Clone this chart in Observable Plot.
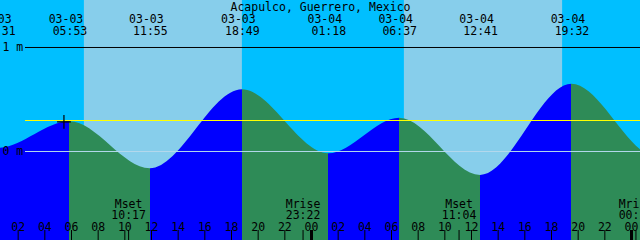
<!DOCTYPE html>
<html>
<head>
<meta charset="utf-8">
<script src="https://cdn.jsdelivr.net/npm/d3@7"></script>
<script src="https://cdn.jsdelivr.net/npm/@observablehq/plot@0.6"></script>
<style>
  html, body { margin: 0; padding: 0; background: #fff; }
  svg { display: block; }
</style>
</head>
<body>
<div id="chart"></div>
<script>
// ---- data ----
const title = "Acapulco, Guerrero, Mexico";
const tideTimes  = ["03-02 18:05", "03-03 00:31", "03-03 05:53", "03-03 11:55", "03-03 18:49", "03-04 01:18", "03-04 06:37", "03-04 12:41", "03-04 19:32", "03-05 02:00", "03-05 07:20"];
const tideLevels = [0.55, 0.03, 0.285, -0.167, 0.593, -0.022, 0.32, -0.23, 0.647, -0.06, 0.34];
const labeledTides = [1, 2, 3, 4, 5, 6, 7, 8];
const sunrises = ["03-03 06:58", "03-04 06:58"];
const sunsets  = ["03-03 18:49", "03-04 18:50"];
const moonNames = ["Mset", "Mrise", "Mset", "Mrise"];
const moonTimes = ["03-03 10:17", "03-03 23:22", "03-04 11:04", "03-05 00:20"];
const meanLevel = 0.298;
const levelLines = [1, 0];
const levelLabels = ["1 m", "0 m"];
const markTime = "03-03 05:26";
const markLevel = 0.284;
const tickTimes = ["03-03 02:00","03-03 04:00","03-03 06:00","03-03 08:00","03-03 10:00","03-03 12:00","03-03 14:00","03-03 16:00","03-03 18:00","03-03 20:00","03-03 22:00","03-04 00:00",
                   "03-04 02:00","03-04 04:00","03-04 06:00","03-04 08:00","03-04 10:00","03-04 12:00","03-04 14:00","03-04 16:00","03-04 18:00","03-04 20:00","03-04 22:00","03-05 00:00"];
const xDomain = [-23.325, 24.675];   // hours relative to 03-04 00:00
const yDomain = [-0.8558, 1.4519];   // metres

// ---- helpers ----
function hrs(s) {
  const [md, hm] = s.split(" ");
  const day = +md.split("-")[1];
  const [h, m] = hm.split(":").map(Number);
  return (day - 4) * 24 + h + m / 60;
}
const tides = tideTimes.map((t, i) => ({t: hrs(t), h: tideLevels[i], date: t.split(" ")[0], time: t.split(" ")[1]}));
const tideLabels = labeledTides.map(i => tides[i]);
const dayBands = sunrises.map((s, i) => ({start: hrs(s), end: hrs(sunsets[i])}));
const moon = moonTimes.map((t, i) => ({t: hrs(t), name: moonNames[i], time: t.split(" ")[1]}));
const ticks = tickTimes.map(t => ({t: hrs(t), label: t.split(" ")[1].slice(0, 2), midnight: t.endsWith("00:00")}));
const levels = levelLines.map((v, i) => ({v, label: levelLabels[i]}));

const font = "DejaVu Sans Mono";
const fs = 11.5;
const txt = (data, opts) => Plot.text(data, {fontFamily: font, fontSize: fs, fill: "black", lineAnchor: "bottom", ...opts});

const plot = Plot.plot({
  width: 640,
  height: 240,
  margin: 0,
  style: {background: "#00BFFF", overflow: "hidden"},
  x: {domain: xDomain, axis: null},
  y: {domain: yDomain, axis: null},
  marks: [
    Plot.rect(dayBands, {x1: "start", x2: "end", fill: "#87CEEB"}),
    Plot.areaY(tides, {x: "t", y1: yDomain[0], y2: "h", curve: "monotone-x", fill: "url(#tideFill)"}),
    Plot.ruleY(levels.slice(0, 1), {y: "v", stroke: "black", insetLeft: 25}),
    Plot.ruleY(levels.slice(1), {y: "v", stroke: "#b4d8ec", insetLeft: 25}),
    Plot.ruleY([meanLevel], {stroke: "#ffff00", insetLeft: 25}),
    Plot.dot([{t: hrs(markTime), h: markLevel}], {x: "t", y: "h", symbol: "plus", r: 4.5, stroke: "black", strokeWidth: 1.2}),
    txt([title], {frameAnchor: "top", dy: 10.5}),
    txt(tideLabels, {x: "t", text: "date", frameAnchor: "top", dy: 22, dx: -4}),
    txt(tideLabels, {x: "t", text: "time", frameAnchor: "top", dy: 34}),
    txt(levels, {y: "v", text: "label", frameAnchor: "left", textAnchor: "start", lineAnchor: "middle", dx: 2}),
    txt(moon, {x: "t", text: "name", frameAnchor: "top", dy: 207}),
    txt(moon, {x: "t", text: "time", frameAnchor: "top", dy: 218.5}),
    txt(ticks, {x: "t", text: "label", frameAnchor: "top", dy: 230.5}),
    Plot.ruleX(ticks.filter(d => !d.midnight), {x: "t", stroke: "black", insetTop: 230}),
    Plot.ruleX(ticks.filter(d => d.midnight), {x: "t", stroke: "black", strokeWidth: 3, insetTop: 230}),
    Plot.ruleX(moon, {x: "t", stroke: "black", insetTop: 230})
  ]
});

// flood (rising) / ebb (falling) colouring of the water, placed with the plot's own x scale
const sx = plot.scale("x");
const svgW = 640;
const defs = d3.select(plot).insert("defs", ":first-child");
const grad = defs.append("linearGradient")
  .attr("id", "tideFill")
  .attr("gradientUnits", "userSpaceOnUse")
  .attr("x1", 0).attr("x2", svgW).attr("y1", 0).attr("y2", 0);
const clamp = v => Math.max(0, Math.min(1, v));
for (let i = 0; i < tides.length - 1; i++) {
  const color = tides[i + 1].h > tides[i].h ? "#0000FF" : "#2E8B57";
  const a = clamp(sx.apply(tides[i].t) / svgW);
  const b = clamp(sx.apply(tides[i + 1].t) / svgW);
  grad.append("stop").attr("offset", a).attr("stop-color", color);
  grad.append("stop").attr("offset", b).attr("stop-color", color);
}

document.getElementById("chart").appendChild(plot);
</script>
</body>
</html>
